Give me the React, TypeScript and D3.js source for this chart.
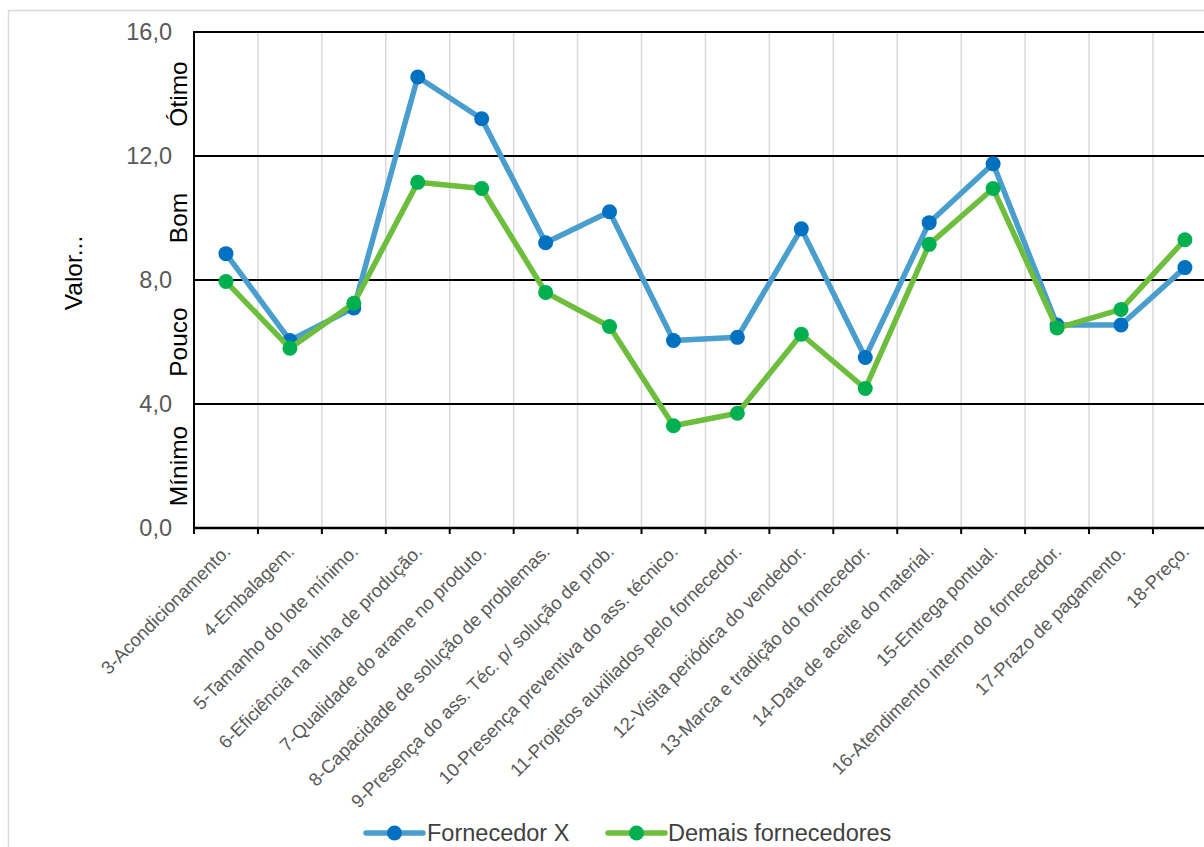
import React from "react";
import * as d3 from "d3";

// Criteria evaluated for each supplier group
const categories: string[] = [
  "3-Acondicionamento.",
  "4-Embalagem.",
  "5-Tamanho do lote mínimo.",
  "6-Eficiência na linha de produção.",
  "7-Qualidade do arame no produto.",
  "8-Capacidade de solução de problemas.",
  "9-Presença do ass. Téc. p/ solução de prob.",
  "10-Presença preventiva do ass. técnico.",
  "11-Projetos auxiliados pelo fornecedor.",
  "12-Visita periódica do vendedor.",
  "13-Marca e tradição do fornecedor.",
  "14-Data de aceite do material.",
  "15-Entrega pontual.",
  "16-Atendimento interno do fornecedor.",
  "17-Prazo de pagamento.",
  "18-Preço.",
];

const fornecedorX: number[] = [
  8.85, 6.05, 7.1, 14.55, 13.2, 9.2, 10.2, 6.05, 6.15, 9.65, 5.5, 9.85, 11.75, 6.55, 6.55, 8.4,
];

const demaisFornecedores: number[] = [
  7.95, 5.8, 7.25, 11.15, 10.95, 7.6, 6.5, 3.3, 3.7, 6.25, 4.5, 9.15, 10.95, 6.45, 7.05, 9.3,
];

const yTicks: number[] = [0, 4, 8, 12, 16];

// Qualitative bands shown along the value axis, bounded by levelBounds
const levelNames: string[] = ["Mínimo", "Pouco", "Bom", "Ótimo"];
const levelBounds: number[] = [0, 4, 8, 12, 16];

const seriesNames: string[] = ["Fornecedor X", "Demais fornecedores"];

const FONT = "'Liberation Sans', Arial, Helvetica, sans-serif";

const W = 1204;
const H = 847;
const plotLeft = 194;
const plotTop = 32;
const plotBottom = 528;
const bandW = 63.93;

const seriesStyle = [
  { line: "#4A9ECE", marker: "#0070C0", values: fornecedorX },
  { line: "#6CBE3C", marker: "#00B050", values: demaisFornecedores },
];

export default function App() {
  const x = d3
    .scaleBand<string>()
    .domain(categories)
    .range([plotLeft, plotLeft + bandW * categories.length])
    .padding(0);
  const y = d3.scaleLinear().domain([0, 16]).range([plotBottom, plotTop]);
  const cx = (c: string) => (x(c) as number) + x.bandwidth() / 2;
  const plotRight = plotLeft + bandW * categories.length;

  const line = d3
    .line<number>()
    .x((_, i) => cx(categories[i]))
    .y((v) => y(v));

  const boundaries = categories.map((c) => x(c) as number).concat([plotRight]);

  return (
    <svg
      width={W}
      height={H}
      style={{ position: "absolute", left: 0, top: 0, display: "block", background: "#fff" }}
      fontFamily={FONT}
    >
      {/* chart frame */}
      <rect x={8.5} y={10.5} width={W + 20} height={H + 20} fill="#fff" stroke="#d9d9d9" strokeWidth={1.5} />

      {/* vertical gridlines between categories */}
      {boundaries.slice(1).map((b, i) => (
        <line key={"vg" + i} x1={b} x2={b} y1={plotTop} y2={plotBottom} stroke="#d9d9d9" strokeWidth={1.5} />
      ))}

      {/* horizontal gridlines */}
      {yTicks.map((t) => (
        <line
          key={"hg" + t}
          x1={plotLeft}
          x2={plotRight}
          y1={y(t)}
          y2={y(t)}
          stroke="#000"
          strokeWidth={t === 0 ? 2.5 : 2}
        />
      ))}

      {/* value axis line */}
      <line x1={plotLeft} x2={plotLeft} y1={plotTop - 1} y2={plotBottom + 1} stroke="#000" strokeWidth={2} />

      {/* category tick marks */}
      {boundaries.map((b, i) => (
        <line key={"tk" + i} x1={b} x2={b} y1={plotBottom} y2={plotBottom + 6} stroke="#000" strokeWidth={2} />
      ))}

      {/* value tick labels */}
      {yTicks.map((t) => (
        <text
          key={"yt" + t}
          x={172}
          y={y(t)}
          dy="0.35em"
          textAnchor="end"
          fontSize={23.5}
          fill="#595959"
        >
          {d3.format(".1f")(t).replace(".", ",")}
        </text>
      ))}

      {/* qualitative level labels */}
      {levelNames.map((name, i) => {
        const mid = (y(levelBounds[i]) + y(levelBounds[i + 1])) / 2;
        return (
          <text
            key={"lv" + name}
            transform={`translate(178,${mid}) rotate(-90)`}
            dy="0.35em"
            textAnchor="middle"
            fontSize={24.5}
            fill="#000"
          >
            {name}
          </text>
        );
      })}

      {/* axis title */}
      <text transform={`translate(73,273) rotate(-90)`} dy="0.35em" textAnchor="middle" fontSize={24.5} fill="#000">
        Valor...
      </text>

      {/* category labels */}
      {categories.map((c) => (
        <text
          key={"xl" + c}
          transform={`translate(${cx(c) + 1},548) rotate(-45)`}
          dy="0.35em"
          textAnchor="end"
          fontSize={18.5}
          fill="#595959"
        >
          {c}
        </text>
      ))}

      {/* series */}
      {seriesStyle.map((s, si) => (
        <g key={"s" + si}>
          <path d={line(s.values) || ""} fill="none" stroke={s.line} strokeWidth={5.5} strokeLinejoin="round" strokeLinecap="round" />
          {s.values.map((v, i) => (
            <circle key={i} cx={cx(categories[i])} cy={y(v)} r={7.5} fill={s.marker} />
          ))}
        </g>
      ))}

      {/* legend */}
      {[
        { x0: 366, x1: 423, tx: 427 },
        { x0: 608, x1: 665, tx: 668 },
      ].map((p, i) => (
        <g key={"lg" + i}>
          <line x1={p.x0} x2={p.x1} y1={833} y2={833} stroke={seriesStyle[i].line} strokeWidth={5.5} strokeLinecap="round" />
          <circle cx={(p.x0 + p.x1) / 2} cy={833} r={7.5} fill={seriesStyle[i].marker} />
          <text x={p.tx} y={833} dy="0.35em" fontSize={23.5} fill="#404040">
            {seriesNames[i]}
          </text>
        </g>
      ))}
    </svg>
  );
}
